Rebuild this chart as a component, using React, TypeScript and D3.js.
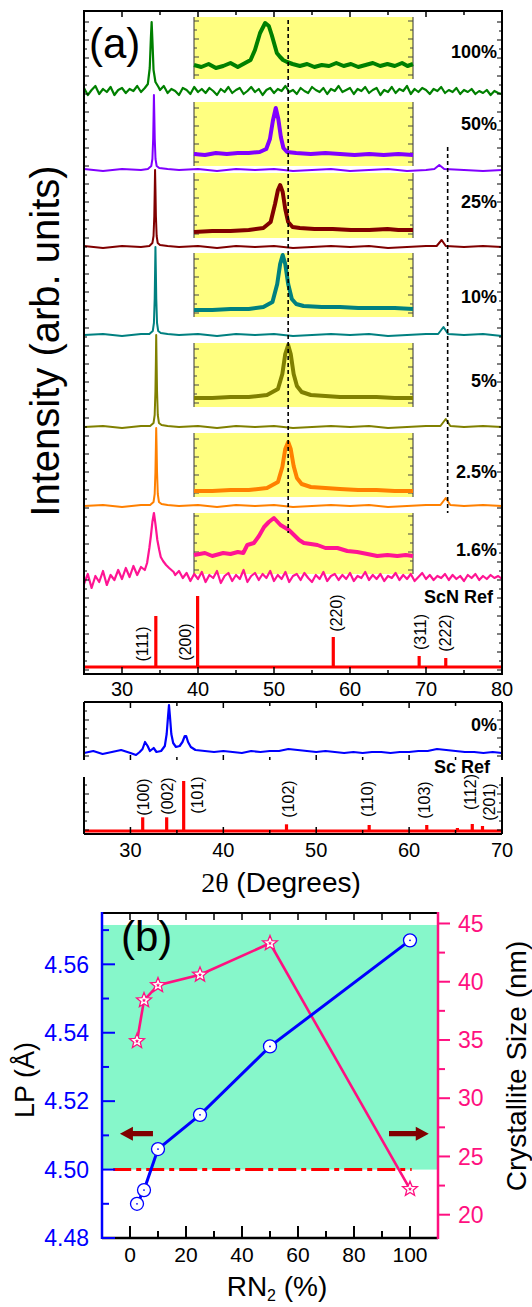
import React from 'react';
import * as d3 from 'd3';

type Pt = [number, number];

// ================= DATA =================
// Panel (a), upper: 2θ (deg) vs intensity (arb. units, stacked)
const seriesLabels = ['100%', '50%', '25%', '10%', '5%', '2.5%', '1.6%'];

const trace100: Pt[] = [
  [25,586],[25.5,579],[26,584],[26.5,588],[27,580],[27.5,585],[28,582],[28.5,587],[29,579],[29.5,584],
  [30,586],[30.5,581],[31,585],[31.5,583],[32,588],[32.5,582],[33,586],[33.4,590],[33.65,606],[33.8,636],
  [33.9,652],[34,634],[34.15,604],[34.4,592],[34.8,587],[35,584],[35.5,588],[36,581],[36.5,585],[37,583],
  [37.5,579],[38,586],[38.5,584],[39,580],[39.5,587],[40,582],[40.5,585],[41,581],[41.5,586],[42,583],
  [42.5,579],[43,585],[43.5,582],[44,587],[44.5,581],[45,584],[45.5,586],[46,580],[46.5,583],[47,587],
  [47.5,582],[48,585],[48.5,579],[49,584],[49.5,586],[50,581],[50.5,585],[51,583],[51.5,588],[52,582],
  [52.5,584],[53,580],[53.5,586],[54,583],[54.5,581],[55,587],[55.5,584],[56,582],[56.5,586],[57,580],
  [57.5,585],[58,583],[58.5,588],[59,582],[59.5,584],[60,586],[60.5,580],[61,585],[61.5,583],[62,587],
  [62.5,581],[63,584],[63.5,586],[64,579],[64.5,584],[65,582],[65.5,587],[66,581],[66.5,585],[67,583],
  [67.5,588],[68,580],[68.5,585],[69,582],[69.5,586],[70,584],[70.5,580],[71,585],[71.5,583],[72,587],
  [72.5,581],[73,584],[73.5,582],[74,586],[74.5,580],[75,584],[75.5,582],[76,585],[76.5,580],[77,583],
  [77.5,581],[78,584],[78.5,579],[79,583],[79.5,581],[80,580]
];
const trace50: Pt[] = [
  [25,505],[27.5,503],[30,505],[32.5,504],[33.4,505],[33.85,508],[34,515],[34.1,535],[34.16,560],[34.2,579],
  [34.25,560],[34.31,535],[34.41,515],[34.56,508],[34.9,506],[36,505],[37.5,504],[40,505],[42.5,503],[45,505],
  [47.5,504],[50,505],[52.5,503],[55,504],[57.5,505],[60,503],[62.5,504],[65,505],[67.5,503],[70,504],
  [71.1,505],[71.75,509],[72.4,505],[75,504],[77.5,503],[80,504]
];
const trace25: Pt[] = [
  [25,428],[27.5,426],[30,428],[32.5,427],[33.6,428],[34,431],[34.15,438],[34.25,458],[34.31,485],[34.35,504],
  [34.4,485],[34.46,458],[34.56,438],[34.7,431],[35,429],[36,428],[37.5,427],[40,428],[42.5,426],[45,428],
  [47.5,427],[50,428],[52.5,426],[55,427],[57.5,428],[60,427],[62.5,428],[65,426],[67.5,427],[70,428],
  [71.4,428],[72.06,434],[72.6,428],[75,427],[77.5,428],[80,427]
];
const trace10: Pt[] = [
  [25,339],[27.5,340],[30,338],[32.5,340],[33.6,340],[34.05,343],[34.2,351],[34.3,375],[34.36,405],[34.4,427],
  [34.45,405],[34.51,375],[34.61,351],[34.76,343],[35.1,341],[36,340],[37.5,339],[40,340],[42.5,338],[45,340],
  [47.5,339],[50,340],[52.5,338],[55,339],[57.5,340],[60,339],[62.5,340],[65,338],[67.5,339],[70,340],
  [71.6,340],[72.3,347],[72.9,340],[75,339],[77.5,340],[80,338]
];
const trace5: Pt[] = [
  [25,247],[27.5,248],[30,246],[32.5,248],[33.7,248],[34.15,251],[34.3,259],[34.4,283],[34.46,313],[34.5,339],
  [34.55,313],[34.61,283],[34.71,259],[34.86,251],[35.2,249],[36,248],[37.5,247],[40,248],[42.5,246],[45,248],
  [47.5,247],[50,248],[52.5,246],[55,247],[57.5,248],[60,247],[62.5,248],[65,246],[67.5,247],[70,248],
  [71.9,248],[72.6,255],[73.2,248],[75,247],[77.5,248],[80,247]
];
const trace2p5: Pt[] = [
  [25,168],[27.5,169],[30,167],[32.5,169],[33.7,169],[34.15,172],[34.3,180],[34.4,202],[34.46,228],[34.5,246],
  [34.55,228],[34.61,202],[34.71,180],[34.86,172],[35.2,170],[36,169],[37.5,168],[40,169],[42.5,167],[45,169],
  [47.5,168],[50,169],[52.5,167],[55,168],[57.5,169],[60,168],[62.5,169],[65,167],[67.5,168],[70,169],
  [71.9,169],[72.6,176],[73.2,169],[75,168],[77.5,169],[80,168]
];
const trace1p6: Pt[] = [
  [25,90],[25.5,100],[26,86],[26.5,98],[27,92],[27.5,103],[28,89],[28.5,99],[29,94],[29.5,104],
  [30,95],[30.5,106],[31,97],[31.5,108],[32,99],[32.5,107],[33,104],[33.3,111],[33.6,126],[33.8,138],
  [34,152],[34.2,161],[34.4,150],[34.65,134],[34.9,124],[35.1,117],[35.4,113],[35.8,109],[36.2,106],[36.8,102],
  [37,99],[37.5,103],[38,96],[38.5,101],[39,93],[39.5,100],[40,95],[40.5,102],[41,92],[41.5,99],
  [42,96],[42.5,103],[43,91],[43.5,98],[44,101],[44.5,93],[45,99],[45.5,95],[46,104],[46.5,92],
  [47,98],[47.5,101],[48,94],[48.5,100],[49,96],[49.5,103],[50,93],[50.5,99],[51,95],[51.5,102],
  [52,92],[52.5,98],[53,100],[53.5,94],[54,101],[54.5,96],[55,92],[55.5,99],[56,95],[56.5,102],
  [57,93],[57.5,98],[58,100],[58.5,94],[59,99],[59.5,95],[60,101],[60.5,93],[61,98],[61.5,96],
  [62,102],[62.5,94],[63,99],[63.5,95],[64,100],[64.5,93],[65,98],[65.5,96],[66,101],[66.5,94],
  [67,99],[67.5,95],[68,100],[68.5,93],[69,97],[69.5,101],[70,95],[70.5,99],[71,94],[71.5,98],
  [72,96],[72.5,100],[73,94],[73.5,99],[74,95],[74.5,98],[75,93],[75.5,99],[76,96],[76.5,100],
  [77,94],[77.5,98],[78,95],[78.5,99],[79,96],[79.5,98],[80,95]
];

// Insets: zoom of the (111) peak, 2θ from 32 to 38 deg
const inset100: Pt[] = [
  [32,609],[32.2,607],[32.4,610],[32.6,606],[32.8,608],[33,611],[33.2,607],[33.4,611],[33.55,614],[33.67,624],
  [33.81,641],[33.95,651],[34.05,648],[34.13,639],[34.2,630],[34.27,621],[34.36,617],[34.44,614],[34.55,612],[34.7,610],
  [34.9,608],[35.1,610],[35.3,607],[35.5,609],[35.7,608],[35.9,611],[36.1,608],[36.3,610],[36.5,607],[36.7,609],
  [36.9,611],[37.1,608],[37.3,610],[37.5,608],[37.7,611],[37.85,608],[38,610]
];
const inset50: Pt[] = [
  [32,520],[32.3,519],[32.6,521],[32.9,520],[33.2,521],[33.5,521],[33.8,522],[33.98,525],[34.08,535],[34.16,553],
  [34.24,566],[34.31,555],[34.38,537],[34.45,526],[34.55,522],[34.8,521],[35.2,520],[35.6,521],[36,520],[36.4,519],
  [36.8,520],[37.2,519],[37.6,520],[38,519]
];
const inset25: Pt[] = [
  [32,442],[32.5,443],[33,443],[33.5,444],[33.9,446],[34.1,452],[34.22,470],[34.3,484],[34.36,489],[34.43,482],
  [34.5,465],[34.58,452],[34.7,447],[34.9,446],[35.3,445],[35.8,445],[36.3,444],[36.8,444],[37.3,445],[37.6,444],[38,444]
];
const inset10: Pt[] = [
  [32,364],[32.5,364],[33,365],[33.5,365],[33.9,367],[34.15,372],[34.28,390],[34.36,410],[34.43,419],[34.5,410],
  [34.58,390],[34.68,375],[34.8,370],[35,368],[35.5,367],[36,367],[36.5,366],[37,366],[37.5,366],[38,365]
];
const inset5: Pt[] = [
  [32,276],[32.5,276],[33,277],[33.5,277],[34,279],[34.3,285],[34.42,300],[34.5,320],[34.58,329],[34.65,320],
  [34.73,300],[34.82,288],[34.95,282],[35.2,279],[35.6,278],[36,277],[36.5,277],[37,277],[37.5,276],[38,276]
];
const inset2p5: Pt[] = [
  [32,183],[32.5,183],[33,184],[33.5,184],[34,186],[34.3,192],[34.42,207],[34.5,225],[34.58,232],[34.65,225],
  [34.73,208],[34.82,196],[34.95,190],[35.2,187],[35.6,186],[36,185],[36.5,184],[37,184],[37.5,183],[38,183]
];
const inset1p6: Pt[] = [
  [32,119],[32.3,121],[32.5,118],[32.8,121],[33,120],[33.2,122],[33.35,121],[33.46,129],[33.64,131],[33.78,138],
  [33.92,147],[34.05,152],[34.19,156],[34.37,149],[34.6,144],[34.74,139],[34.88,134],[35.01,131],[35.2,130],[35.38,129],
  [35.6,126],[35.93,126],[36.2,123],[36.47,122],[36.75,120],[37.02,118],[37.3,119],[37.57,118],[37.8,119],[38,118]
];

// ScN reference sticks [2θ, top intensity]; baseline intensity
const scnRefSticks: Pt[] = [[34.45,58],[39.95,78],[57.8,37],[69.1,18],[72.6,16]];
const scnRefBaseline = 7;
const scnRefHkl = ['(111)', '(200)', '(220)', '(311)', '(222)'];

// Panel (a), lower: Sc film (0%) and Sc reference
const trace0: Pt[] = [
  [25,81],[26,83],[27,80],[28,82],[29,84],[30,81],[30.6,79],[31,82],[31.3,85],[31.57,92],
  [31.85,88],[32.1,83],[32.5,86],[32.8,82],[33.3,83],[33.7,88],[33.9,100],[34.05,118],[34.15,129],[34.25,118],
  [34.4,100],[34.6,91],[34.9,87],[35.3,88],[35.6,92],[35.85,98],[36,98],[36.2,92],[36.5,87],[37,84],
  [38,83],[39,82],[40,83],[41,82],[42,81],[43,83],[44,82],[45,83],[46,83],[47,85],
  [48,84],[49,83],[50,82],[51,83],[52,82],[53,81],[54,82],[55,81],[56,82],[57,82],
  [58,81],[59,82],[60,82],[61,83],[62,83],[63,85],[64,84],[65,83],[66,82],[67,82],
  [68,81],[69,82],[70,81]
];
const scRefSticks: Pt[] = [[31.32,16.7],[33.9,16.7],[35.73,53],[46.8,9.7],[55.7,9],[61.9,9],[65.2,6],[66.8,10],[67.9,8]];
const scRefBaseline = 3;
const scRefHkl = ['(100)', '(002)', '(101)', '(102)', '(110)', '(103)', '', '(112)', '(201)'];

const xTicksTop = [30, 40, 50, 60, 70, 80];
const xTicksLow = [30, 40, 50, 60, 70];

// Panel (b)
const rn2 = [2.5, 5, 10, 25, 50, 100];
const lp = [4.49, 4.494, 4.506, 4.516, 4.536, 4.567];
const crystSize = [34.9, 38.4, 39.7, 40.6, 43.3, 22.2];
const lpTicks = [4.48, 4.5, 4.52, 4.54, 4.56];
const sizeTicks = [20, 25, 30, 35, 40, 45];
const rnTicks = [0, 20, 40, 60, 80, 100];

// ================= STYLE / LAYOUT =================
const SANS = 'Liberation Sans, Arial, Helvetica, sans-serif';
const SERIF = 'Liberation Serif, Times New Roman, serif';
const seriesColors = ['#008000', '#8000FF', '#800000', '#008080', '#808000', '#FF8000', '#FF1493'];
const mainTraces = [trace100, trace50, trace25, trace10, trace5, trace2p5, trace1p6];
const insetTraces = [inset100, inset50, inset25, inset10, inset5, inset2p5, inset1p6];
// inset boxes in intensity units [bottom, top]
const insetBoxes: Pt[] = [[595, 657], [508, 572], [436, 501], [357, 421], [267, 331], [177, 241], [100, 161]];
const labelBaselines = [58, 130, 208, 303, 387, 478, 556];
const scnLabelLayout = [[-13, 644], [-12, 642], [3, 613], [1, 632], [0, 633]];
const scLabelLayout = [[1, 797], [1, 796], [14, 795], [2, 799], [-2, 799], [-2, 800], [0, 0], [-2, 792], [7, 802]];
const PINK_B = '#FF1080';

function starPath(R: number, r: number) {
  let p = '';
  for (let i = 0; i < 10; i++) {
    const a = -Math.PI / 2 + (i * Math.PI) / 5;
    const rad = i % 2 ? r : R;
    p += (i ? 'L' : 'M') + (rad * Math.cos(a)).toFixed(2) + ',' + (rad * Math.sin(a)).toFixed(2);
  }
  return p + 'Z';
}

export default function App() {
  const W = 532, H = 1307;

  // scales, panel (a) upper
  const xMain = d3.scaleLinear().domain([25, 80]).range([84, 502]);
  const yMain = d3.scaleLinear().domain([0, 663]).range([674, 11]);
  const xInset = d3.scaleLinear().domain([32, 38]).range([194, 413]);
  // panel (a) lower
  const xLow = d3.scaleLinear().domain([25, 70]).range([84, 502]);
  const yLow = d3.scaleLinear().domain([0, 132]).range([834, 702]);
  // panel (b)
  const xB = d3.scaleLinear().domain([-10, 110]).range([102, 438]);
  const yLP = d3.scaleLinear().domain([4.48, 4.575]).range([1238, 913]);
  const yS = d3.scaleLinear().domain([18, 45.9]).range([1238, 913]);

  const lineMain = d3.line<Pt>().x(d => xMain(d[0])).y(d => yMain(d[1]));
  const lineInset = d3.line<Pt>().x(d => xInset(d[0])).y(d => yMain(d[1]));
  const lineLow = d3.line<Pt>().x(d => xLow(d[0])).y(d => yLow(d[1]));
  const lineLP = d3.line<number>().x((_, i) => xB(rn2[i])).y(d => yLP(d));
  const lineS = d3.line<number>().x((_, i) => xB(rn2[i])).y(d => yS(d));

  const sideTicks = (x0: number, y0: number, y1: number, dir: number, key: string, color = '#000') => {
    const out: JSX.Element[] = [];
    let k = 0;
    for (let y = y1 - 4; y > y0 + 2; y -= 9, k++) {
      out.push(<line key={key + k} x1={x0} x2={x0 + dir * (k % 2 ? 3 : 5)} y1={y} y2={y} stroke={color} strokeWidth={1} />);
    }
    return out;
  };

  const arrow = (tipX: number, tailX: number, y: number) => {
    const s = tipX < tailX ? 1 : -1;
    const hx = tipX + s * 13;
    return `M${tipX},${y} L${hx},${y - 7} L${hx},${y - 2.6} L${tailX},${y - 2.6} L${tailX},${y + 2.6} L${hx},${y + 2.6} L${hx},${y + 7} Z`;
  };

  return (
    <svg width={W} height={H} style={{ position: 'absolute', left: 0, top: 0, background: '#fff' }} fontFamily={SANS}>
      <rect x={0} y={0} width={W} height={H} fill="#fff" />

      {/* ===== Panel (a) upper ===== */}
      {insetBoxes.map((b, i) => (
        <g key={'ib' + i}>
          <rect x={xInset(32)} y={yMain(b[1])} width={xInset(38) - xInset(32)} height={yMain(b[0]) - yMain(b[1])} fill="#FFFF80" />
          <line x1={xInset(32)} x2={xInset(32)} y1={yMain(b[1])} y2={yMain(b[0])} stroke="#333" strokeWidth={1} />
          <line x1={xInset(38)} x2={xInset(38)} y1={yMain(b[1])} y2={yMain(b[0])} stroke="#333" strokeWidth={1} />
          {sideTicks(xInset(32), yMain(b[1]), yMain(b[0]), 1, 'il' + i, '#444')}
          {sideTicks(xInset(38), yMain(b[1]), yMain(b[0]), -1, 'ir' + i, '#444')}
        </g>
      ))}

      {/* ScN reference */}
      <line x1={xMain(25)} x2={xMain(80)} y1={yMain(scnRefBaseline)} y2={yMain(scnRefBaseline)} stroke="#FF0000" strokeWidth={3} />
      {scnRefSticks.map((d, i) => (
        <line key={'scn' + i} x1={xMain(d[0])} x2={xMain(d[0])} y1={yMain(scnRefBaseline)} y2={yMain(d[1])} stroke="#FF0000" strokeWidth={3.2} />
      ))}
      {scnRefSticks.map((d, i) => {
        const x = xMain(d[0]) + scnLabelLayout[i][0];
        const y = scnLabelLayout[i][1];
        return (
          <text key={'scnl' + i} x={x} y={y} transform={`rotate(-90 ${x} ${y})`} textAnchor="middle" dominantBaseline="central" fontSize={16}>
            {scnRefHkl[i]}
          </text>
        );
      })}

      {mainTraces.map((t, i) => (
        <path key={'mt' + i} d={lineMain(t) || ''} fill="none" stroke={seriesColors[i]} strokeWidth={i === 0 || i === 6 ? 2.2 : 2} strokeLinejoin="round" />
      ))}
      {insetTraces.map((t, i) => (
        <path key={'it' + i} d={lineInset(t) || ''} fill="none" stroke={seriesColors[i]} strokeWidth={4} strokeLinejoin="round" />
      ))}

      {/* dashed reference lines */}
      <line x1={xInset(34.58)} x2={xInset(34.58)} y1={yMain(654)} y2={yMain(141)} stroke="#000" strokeWidth={1.6} strokeDasharray="4 3" />
      <line x1={xMain(72.85)} x2={xMain(72.85)} y1={yMain(527)} y2={yMain(161)} stroke="#000" strokeWidth={1.6} strokeDasharray="4 3" />

      {seriesLabels.map((s, i) => (
        <text key={'sl' + i} x={497} y={labelBaselines[i]} textAnchor="end" fontWeight="bold" fontSize={18}>{s}</text>
      ))}
      <text x={493} y={603} textAnchor="end" fontWeight="bold" fontSize={18}>ScN Ref</text>

      {/* frame upper */}
      <rect x={84} y={11} width={418} height={663} fill="none" stroke="#000" strokeWidth={2} />
      {sideTicks(84, 11, 674, 1, 'ul')}
      {sideTicks(502, 11, 674, -1, 'ur')}
      {d3.range(25, 80.1, 5).map(v => (
        <g key={'xt' + v}>
          <line x1={xMain(v)} x2={xMain(v)} y1={674} y2={674 - (v % 10 === 0 ? 7 : 4)} stroke="#000" strokeWidth={1.5} />
          <line x1={xMain(v)} x2={xMain(v)} y1={11} y2={11 + (v % 10 === 0 ? 6 : 4)} stroke="#000" strokeWidth={1.5} />
        </g>
      ))}
      {xTicksTop.map(v => (
        <text key={'xl' + v} x={xMain(v)} y={696} textAnchor="middle" fontSize={20}>{v}</text>
      ))}
      <text x={89} y={58} fontSize={42}>(a)</text>
      <text x={59} y={341} transform="rotate(-90 59 341)" textAnchor="middle" fontSize={40}>Intensity (arb. units)</text>

      {/* ===== Panel (a) lower ===== */}
      <path d={lineLow(trace0) || ''} fill="none" stroke="#0000FF" strokeWidth={2.2} strokeLinejoin="round" />
      <line x1={xLow(25)} x2={xLow(70)} y1={yLow(scRefBaseline)} y2={yLow(scRefBaseline)} stroke="#FF0000" strokeWidth={3} />
      {scRefSticks.map((d, i) => (
        <line key={'sc' + i} x1={xLow(d[0])} x2={xLow(d[0])} y1={yLow(scRefBaseline)} y2={yLow(d[1])} stroke="#FF0000" strokeWidth={3.2} />
      ))}
      {scRefSticks.map((d, i) => {
        if (!scRefHkl[i]) return null;
        const x = xLow(d[0]) + scLabelLayout[i][0];
        const y = scLabelLayout[i][1];
        return (
          <text key={'scl' + i} x={x} y={y} transform={`rotate(-90 ${x} ${y})`} textAnchor="middle" dominantBaseline="central" fontSize={16}>
            {scRefHkl[i]}
          </text>
        );
      })}
      <text x={497} y={731} textAnchor="end" fontWeight="bold" fontSize={18}>0%</text>
      <text x={490} y={773} textAnchor="end" fontWeight="bold" fontSize={18}>Sc Ref</text>

      <line x1={84} x2={502} y1={702} y2={702} stroke="#000" strokeWidth={2} />
      <line x1={84} x2={502} y1={834} y2={834} stroke="#000" strokeWidth={2} />
      <line x1={84} x2={84} y1={702} y2={760} stroke="#000" strokeWidth={2} />
      <line x1={502} x2={502} y1={702} y2={760} stroke="#000" strokeWidth={2} />
      <line x1={84} x2={84} y1={777} y2={834} stroke="#000" strokeWidth={2} />
      <line x1={502} x2={502} y1={777} y2={834} stroke="#000" strokeWidth={2} />
      {sideTicks(84, 702, 760, 1, 'll1')}
      {sideTicks(502, 702, 760, -1, 'lr1')}
      {sideTicks(84, 777, 834, 1, 'll2')}
      {sideTicks(502, 777, 834, -1, 'lr2')}
      {d3.range(25, 70.1, 5).map(v => (
        <g key={'xtl' + v}>
          <line x1={xLow(v)} x2={xLow(v)} y1={834} y2={834 - (v % 10 === 0 ? 7 : 4)} stroke="#000" strokeWidth={1.5} />
          <line x1={xLow(v)} x2={xLow(v)} y1={702} y2={702 + (v % 10 === 0 ? 6 : 4)} stroke="#000" strokeWidth={1.5} />
          <line x1={xLow(v)} x2={xLow(v)} y1={760} y2={760 - (v % 10 === 0 ? 5 : 3)} stroke="#000" strokeWidth={1.5} />
        </g>
      ))}
      {xTicksLow.map(v => (
        <text key={'xll' + v} x={xLow(v)} y={857} textAnchor="middle" fontSize={20}>{v}</text>
      ))}
      <text x={281} y={892} textAnchor="middle" fontSize={28}>
        <tspan fontFamily={SERIF}>2θ</tspan>
        <tspan> (Degrees)</tspan>
      </text>

      {/* ===== Panel (b) ===== */}
      <rect x={xB(-10)} y={yLP(4.5715)} width={xB(110) - xB(-10)} height={yLP(4.5) - yLP(4.5715)} fill="#86F7CA" />
      <line x1={xB(-6)} x2={xB(100.6)} y1={yLP(4.5)} y2={yLP(4.5)} stroke="#FF0000" strokeWidth={3} strokeDasharray="18 5 5 5" />
      <path d={arrow(xB(-3.6), xB(8.2), yLP(4.5105))} fill="#800000" />
      <path d={arrow(xB(106.7), xB(92.5), yLP(4.5105))} fill="#800000" />

      <path d={lineS(crystSize) || ''} fill="none" stroke={PINK_B} strokeWidth={2.6} />
      <path d={lineLP(lp) || ''} fill="none" stroke="#0000FF" strokeWidth={3} />
      {lp.map((v, i) => (
        <g key={'c' + i}>
          <circle cx={xB(rn2[i])} cy={yLP(v)} r={6.5} fill="#fff" stroke="#0000FF" strokeWidth={1.3} />
          <circle cx={xB(rn2[i])} cy={yLP(v)} r={0.9} fill="#0000FF" />
        </g>
      ))}
      {crystSize.map((v, i) => (
        <g key={'s' + i} transform={`translate(${xB(rn2[i])},${yS(v)})`}>
          <path d={starPath(7.8, 3.4)} fill="#fff" stroke={PINK_B} strokeWidth={1.3} />
          <path d={starPath(2.2, 1)} fill={PINK_B} />
        </g>
      ))}

      {/* axes (b) */}
      <line x1={102} x2={438} y1={913} y2={913} stroke="#000" strokeWidth={2} />
      <line x1={102} x2={438} y1={1238} y2={1238} stroke="#000" strokeWidth={2.5} />
      <line x1={102} x2={102} y1={912} y2={1239} stroke="#0000FF" strokeWidth={2.5} />
      <line x1={438} x2={438} y1={912} y2={1239} stroke={PINK_B} strokeWidth={2.5} />
      {d3.range(0, 100.1, 10).map(v => (
        <g key={'bt' + v}>
          <line x1={xB(v)} x2={xB(v)} y1={1238} y2={1238 - (v % 20 === 0 ? 12 : 7)} stroke="#000" strokeWidth={2} />
          <line x1={xB(v)} x2={xB(v)} y1={913} y2={920} stroke="#000" strokeWidth={1.5} />
        </g>
      ))}
      {d3.range(4.48, 4.5751, 0.01).map((v, i) => (
        <line key={'lpt' + i} x1={102} x2={102 + (i % 2 === 0 ? 13 : 7)} y1={yLP(v)} y2={yLP(v)} stroke="#0000FF" strokeWidth={2} />
      ))}
      {d3.range(20, 45.1, 2.5).map((v, i) => (
        <line key={'st' + i} x1={438} x2={438 + (i % 2 === 0 ? 12 : 7)} y1={yS(v)} y2={yS(v)} stroke={PINK_B} strokeWidth={2} />
      ))}
      {rnTicks.map(v => (
        <text key={'rl' + v} x={xB(v)} y={1262} textAnchor="middle" fontSize={21}>{v}</text>
      ))}
      {lpTicks.map(v => (
        <text key={'lpl' + v} x={89} y={yLP(v)} dy="0.36em" textAnchor="end" fontSize={23} fill="#0000FF">{v.toFixed(2)}</text>
      ))}
      {sizeTicks.map(v => (
        <text key={'szl' + v} x={458} y={yS(v)} dy="0.36em" textAnchor="start" fontSize={23} fill={PINK_B}>{v}</text>
      ))}
      <text x={121} y={951} fontSize={42}>(b)</text>
      <text x={34} y={1080} transform="rotate(-90 34 1080)" textAnchor="middle" fontSize={27}>LP (Å)</text>
      <text x={526} y={1066} transform="rotate(-90 526 1066)" textAnchor="middle" fontSize={28}>Crystallite Size (nm)</text>
      <text x={277} y={1296} textAnchor="middle" fontSize={28}>
        <tspan>RN</tspan>
        <tspan fontSize={16} dy={5}>2</tspan>
        <tspan dy={-5}> (%)</tspan>
      </text>
    </svg>
  );
}
